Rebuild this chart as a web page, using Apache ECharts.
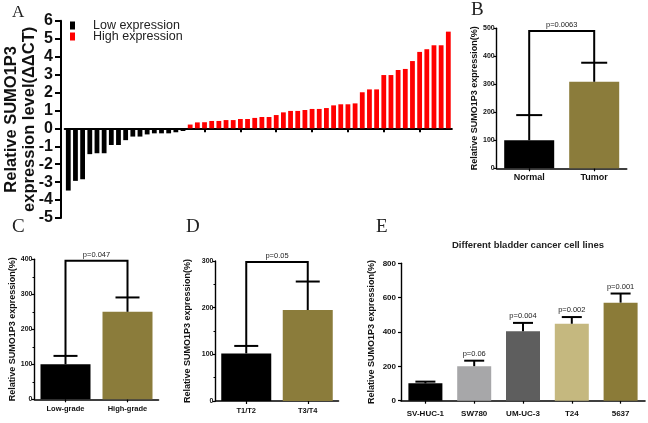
<!DOCTYPE html>
<html><head><meta charset="utf-8">
<script src="https://cdn.jsdelivr.net/npm/echarts@6/dist/echarts.min.js"></script>
<style>html,body{margin:0;padding:0;background:#fff}#c{width:648px;height:423px}</style>
</head><body><div id="c"></div>
<script>
// ---- Panel A data ----
const A_low = [-3.47,-2.93,-2.84,-1.44,-1.39,-1.39,-0.93,-0.93,-0.66,-0.46,-0.46,-0.34,-0.28,-0.28,-0.28,-0.22,-0.15];
const A_high = [0.21,0.33,0.34,0.41,0.41,0.46,0.46,0.52,0.52,0.58,0.63,0.63,0.74,0.89,0.97,0.97,1.02,1.08,1.08,1.13,1.28,1.34,1.34,1.39,2.01,2.17,2.17,2.97,2.97,3.25,3.31,3.75,4.26,4.41,4.63,4.63,5.39];
const A_names = ['Low expression','High expression'];
const A_yName = 'Relative SUMO1P3\nexpression level(ΔΔCT)';

// ---- Panel B ----
const B_cats = ['Normal','Tumor'];
const B_vals = [100, 309];
const B_err = [190, 377];
const B_bracket = 490;
const B_p = 'p=0.0063';

// ---- Panel C ----
const C_cats = ['Low-grade','High-grade'];
const C_vals = [100, 250];
const C_err = [124, 291];
const C_bracket = 396;
const C_p = 'p=0.047';

// ---- Panel D ----
const D_cats = ['T1/T2','T3/T4'];
const D_vals = [102, 195];
const D_err = [118, 256];
const D_bracket = 298;
const D_p = 'p=0.05';

// ---- Panel E ----
const E_cats = ['SV-HUC-1','SW780','UM-UC-3','T24','5637'];
const E_vals = [101, 201, 405, 448, 571];
const E_err = [111, 233, 453, 487, 624];
const E_p = ['', 'p=0.06', 'p=0.004', 'p=0.002', 'p=0.001'];
const E_title = 'Different bladder cancer cell lines';

const smallYName = 'Relative SUMO1P3 expression(%)';

// ---- styles ----
const OLIVE = '#8b7c3b';
const E_colors = ['#000000', '#a7a7a9', '#5e5e5e', '#c5b87f', '#8b7b38'];
const SANS = 'Liberation Sans';

const chart = echarts.init(document.getElementById('c'), null, {renderer: 'canvas'});

const lowData = A_low.concat(A_high.map(() => null));
const highData = A_low.map(() => null).concat(A_high);
const A_cats = lowData.map((_, i) => String(i + 1));

function smallX(gi, cats, fs, margin) {
  return {
    type: 'category', gridIndex: gi, data: cats,
    axisLine: {lineStyle: {color: '#000', width: 1.6}},
    axisTick: {show: true, alignWithLabel: true, length: 3, lineStyle: {width: 1.2}},
    axisLabel: {interval: 0, margin: margin, color: '#111', fontFamily: SANS, fontWeight: 'bold', fontSize: fs}
  };
}
function smallY(gi, max, interval, minor, nameGap, fs, margin) {
  return {
    type: 'value', gridIndex: gi, min: 0, max: max, interval: interval,
    name: smallYName, nameLocation: 'middle', nameGap: nameGap,
    nameTextStyle: {fontFamily: SANS, fontWeight: 'bold', fontSize: 9, color: '#111'},
    splitLine: {show: false},
    axisLine: {show: true, lineStyle: {color: '#000', width: 1.4}},
    axisTick: {show: true, length: 3, lineStyle: {width: 1.2}},
    minorTick: {show: minor, splitNumber: 2, length: 2, lineStyle: {color: '#000', width: 1}},
    axisLabel: {margin: margin, color: '#111', fontFamily: SANS, fontWeight: 'bold', fontSize: fs}
  };
}
function barSeries(gi, vals, colors, width) {
  return {
    type: 'bar', xAxisIndex: gi, yAxisIndex: gi, barWidth: width, z: 2,
    data: vals.map((v, i) => ({value: v, itemStyle: {color: colors[i]}}))
  };
}
function errSeries(gi, vals, errs, cap, pTexts) {
  return {
    type: 'custom', xAxisIndex: gi, yAxisIndex: gi, z: 3,
    data: vals.map((v, i) => [i, v, errs[i]]),
    renderItem: function (params, api) {
      const b = api.coord([api.value(0), api.value(1)]);
      const t = api.coord([api.value(0), api.value(2)]);
      const ch = [
        {type: 'line', shape: {x1: b[0], y1: b[1], x2: t[0], y2: t[1]}, style: {stroke: '#000', lineWidth: 2}},
        {type: 'line', shape: {x1: t[0] - cap, y1: t[1], x2: t[0] + cap, y2: t[1]}, style: {stroke: '#000', lineWidth: 2}}
      ];
      if (pTexts && pTexts[params.dataIndex]) {
        ch.push({type: 'text', style: {text: pTexts[params.dataIndex], x: t[0], y: t[1] - 3, align: 'center', verticalAlign: 'bottom',
          fontFamily: SANS, fontSize: 7.5, fill: '#222'}});
      }
      return {type: 'group', children: ch};
    }
  };
}
function bracketSeries(gi, errs, level, text) {
  return {
    type: 'custom', xAxisIndex: gi, yAxisIndex: gi, z: 3,
    data: [[0, errs[0], 1, errs[1], level]],
    renderItem: function (params, api) {
      const p1 = api.coord([api.value(0), api.value(1)]);
      const p2 = api.coord([api.value(0), api.value(4)]);
      const p3 = api.coord([api.value(2), api.value(4)]);
      const p4 = api.coord([api.value(2), api.value(3)]);
      return {type: 'group', children: [
        {type: 'polyline', shape: {points: [p1, p2, p3, p4]}, style: {stroke: '#000', lineWidth: 2, fill: 'none'}},
        {type: 'text', style: {text: text, x: (p2[0] + p3[0]) / 2, y: p2[1] - 2, align: 'center', verticalAlign: 'bottom',
          fontFamily: SANS, fontSize: 7.5, fill: '#222'}}
      ]};
    }
  };
}

const letter = (t, x, y, fs) => ({type: 'text', left: x, top: y, style: {text: t, fontFamily: 'Liberation Serif', fontSize: fs, fill: '#222'}});

const option = {
  animation: false,
  backgroundColor: '#fff',
  title: {text: E_title, left: 523, top: 235, textAlign: 'center',
    textStyle: {fontFamily: SANS, fontWeight: 'bold', fontSize: 9.5, color: '#222'}},
  legend: {
    data: A_names, orient: 'vertical', left: 65, top: 14, itemWidth: 5, itemHeight: 8, itemGap: -2, icon: 'rect',
    textStyle: {fontFamily: SANS, fontSize: 12.5, lineHeight: 12, color: '#222', padding: [0, 0, 0, 13]}
  },
  graphic: [
    letter('A', 12, 4, 17),
    letter('B', 471, 1, 19),
    letter('C', 12, 218, 19),
    letter('D', 186, 218, 19),
    letter('E', 376, 218, 19)
  ],
  grid: [
    {left: 64.7, top: 20.7, width: 387.2, height: 197.3, outerBoundsMode: 'none'},
    {left: 496.7, top: 28.3, width: 130, height: 140, outerBoundsMode: 'none'},
    {left: 34.5, top: 259.3, width: 124, height: 140, outerBoundsMode: 'none'},
    {left: 215.5, top: 261, width: 123, height: 140, outerBoundsMode: 'none'},
    {left: 401, top: 263.3, width: 244, height: 137.4, outerBoundsMode: 'none'}
  ],
  xAxis: [
    {type: 'category', gridIndex: 0, data: A_cats,
      axisLine: {onZero: true, lineStyle: {color: '#000', width: 2}},
      axisTick: {show: true, alignWithLabel: true, interval: (i) => i % 5 === 4, length: 4, lineStyle: {width: 2}},
      axisLabel: {show: false}},
    smallX(1, B_cats, 9, 5),
    smallX(2, C_cats, 7.5, 6),
    smallX(3, D_cats, 7.5, 6),
    smallX(4, E_cats, 8, 9)
  ],
  yAxis: [
    {type: 'value', gridIndex: 0, min: -5, max: 6, interval: 1, offset: 3.7,
      name: A_yName, nameLocation: 'middle', nameGap: 22, nameMoveOverlap: false,
      nameTextStyle: {fontFamily: SANS, fontWeight: 'bold', fontSize: 16.5, color: '#111', lineHeight: 18.5},
      splitLine: {show: false},
      axisLine: {show: true, lineStyle: {color: '#000', width: 2}},
      axisTick: {show: true, length: 6, lineStyle: {width: 2}},
      axisLabel: {margin: 8, color: '#111', fontFamily: SANS, fontWeight: 'bold', fontSize: 16}},
    smallY(1, 500, 100, false, 13, 7, 2),
    smallY(2, 400, 100, true, 16, 7, 2),
    smallY(3, 300, 100, true, 23, 7, 2),
    smallY(4, 800, 200, false, 25, 8, 5)
  ],
  series: [
    {name: A_names[0], type: 'bar', xAxisIndex: 0, yAxisIndex: 0, data: lowData, barWidth: 4.8, barGap: '-100%', itemStyle: {color: '#000'}},
    {name: A_names[1], type: 'bar', xAxisIndex: 0, yAxisIndex: 0, data: highData, barWidth: 4.8, barGap: '-100%', itemStyle: {color: '#ff0000'}},
    barSeries(1, B_vals, ['#000', OLIVE], 50),
    errSeries(1, B_vals, B_err, 13),
    bracketSeries(1, B_err, B_bracket, B_p),
    barSeries(2, C_vals, ['#000', OLIVE], 50),
    errSeries(2, C_vals, C_err, 12),
    bracketSeries(2, C_err, C_bracket, C_p),
    barSeries(3, D_vals, ['#000', OLIVE], 50),
    errSeries(3, D_vals, D_err, 12),
    bracketSeries(3, D_err, D_bracket, D_p),
    barSeries(4, E_vals, E_colors, 34),
    errSeries(4, E_vals, E_err, 10, E_p)
  ]
};
chart.setOption(option);
</script>
</body></html>
